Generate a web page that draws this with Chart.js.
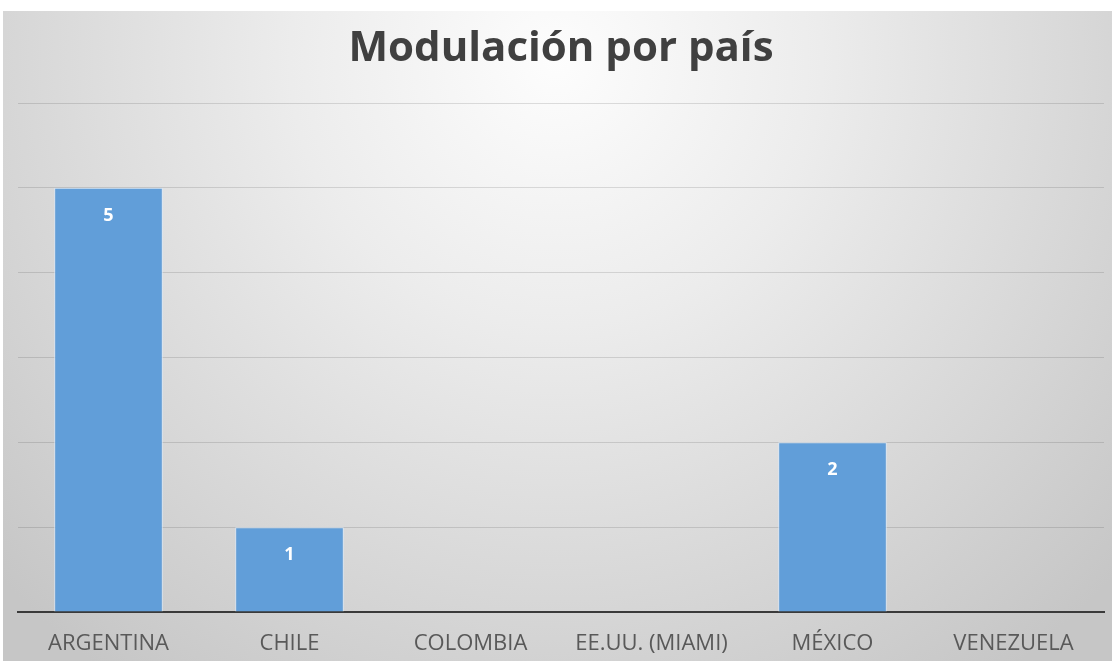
<!DOCTYPE html>
<html>
<head>
<meta charset="utf-8">
<script src="https://cdn.jsdelivr.net/npm/chart.js@4/dist/chart.umd.min.js"></script>
<style>
html,body{margin:0;padding:0;background:#ffffff;}
#wrap{width:1112px;height:661px;position:relative;}
</style>
</head>
<body>
<div id="wrap"><canvas id="c" width="1112" height="661"></canvas></div>
<script>
const categories = ['ARGENTINA', 'CHILE', 'COLOMBIA', 'EE.UU. (MIAMI)', 'MÉXICO', 'VENEZUELA'];
const values = [5, 1, 0, 0, 2, 0];
const titleText = 'Modulación por país';

const bgPlugin = {
  id: 'bg',
  beforeDraw(chart) {
    const ctx = chart.ctx;
    ctx.save();
    ctx.fillStyle = '#ffffff';
    ctx.fillRect(0, 0, chart.width, chart.height);
    const g = ctx.createRadialGradient(556, 60, 0, 556, 60, 760);
    g.addColorStop(0, '#fdfdfd');
    g.addColorStop(0.35, '#ececec');
    g.addColorStop(1, '#c6c6c6');
    ctx.fillStyle = g;
    ctx.fillRect(3, 11, chart.width - 3, chart.height - 11);
    ctx.restore();
  }
};

const labelPlugin = {
  id: 'valLabels',
  afterDatasetsDraw(chart) {
    const ctx = chart.ctx;
    const meta = chart.getDatasetMeta(0);
    ctx.save();
    ctx.fillStyle = '#ffffff';
    ctx.font = 'bold 18px "Open Sans", sans-serif';
    ctx.textAlign = 'center';
    ctx.textBaseline = 'middle';
    meta.data.forEach((bar, i) => {
      const v = chart.data.datasets[0].data[i];
      if (!v) return;
      ctx.fillText(String(v), bar.x, bar.y + 28);
    });
    ctx.restore();
  }
};

new Chart(document.getElementById('c'), {
  type: 'bar',
  data: {
    labels: categories,
    datasets: [{
      data: values,
      backgroundColor: '#619ed9',
      borderColor: 'rgba(215,232,250,0.9)',
      borderWidth: {left: 1, right: 1, top: 1, bottom: 0},
      categoryPercentage: 1,
      barPercentage: 0.6
    }]
  },
  options: {
    responsive: false,
    animation: false,
    devicePixelRatio: 1,
    layout: {padding: {left: 18, right: 8, bottom: 0, top: 0}},
    plugins: {
      legend: {display: false},
      tooltip: {enabled: false},
      title: {
        display: true,
        text: titleText,
        color: '#404040',
        font: {family: 'Open Sans', size: 42, weight: 'bold', lineHeight: 1.2},
        padding: {top: 24, bottom: 28.6}
      }
    },
    scales: {
      x: {
        grid: {display: false, drawTicks: false},
        border: {display: true, color: '#3a3a3a', width: 2},
        ticks: {color: '#595959', font: {family: 'Open Sans', size: 22}, padding: 19, maxRotation: 0, autoSkip: false},
        afterFit(scale) { scale.height = 49; }
      },
      y: {
        min: 0, max: 6,
        ticks: {display: false, stepSize: 1},
        grid: {color: 'rgba(0,0,0,0.12)', lineWidth: 1, drawTicks: false},
        border: {display: false}
      }
    }
  },
  plugins: [bgPlugin, labelPlugin]
});
</script>
</body>
</html>
